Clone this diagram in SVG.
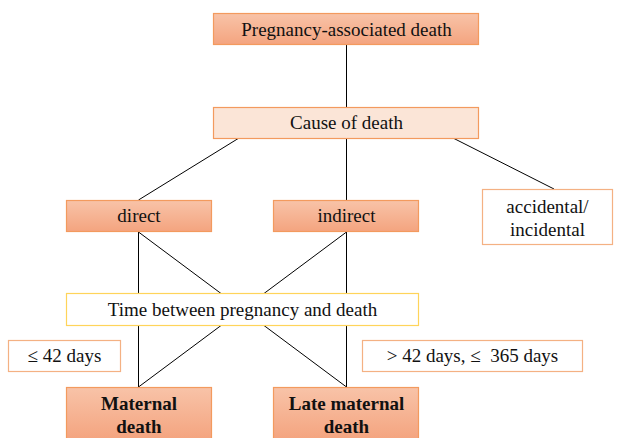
<svg xmlns="http://www.w3.org/2000/svg" width="621" height="438" viewBox="0 0 621 438">
<defs>
<linearGradient id="og" x1="0" y1="0" x2="0" y2="1">
<stop offset="0" stop-color="#F8C3A8"/>
<stop offset="1" stop-color="#F4A47F"/>
</linearGradient>
<style>
.t{font-family:"Liberation Serif","Times New Roman",serif;font-size:19px;fill:#111;text-anchor:middle}
.b{font-weight:bold}
.or{fill:url(#og);stroke:#F39A5E;stroke-width:1.2}
.lt{fill:#FBE5D7;stroke:#F39A5E;stroke-width:1.2}
.wo{fill:#fff;stroke:#F4B183;stroke-width:1.2}
.wy{fill:#fff;stroke:#FFD45A;stroke-width:1.2}
.c line{stroke:#000;stroke-width:1}
</style>
</defs>
<rect width="621" height="438" fill="#fff"/>
<g class="c" id="connectors">
<line x1="346.5" y1="44" x2="346.5" y2="107"/>
<line x1="239" y1="138" x2="138.5" y2="200"/>
<line x1="346.5" y1="138" x2="346.5" y2="200"/>
<line x1="453" y1="138" x2="554" y2="189"/>
<line x1="138.5" y1="232" x2="138.5" y2="387"/>
<line x1="346.5" y1="232" x2="346.5" y2="387"/>
<line x1="138.5" y1="232" x2="346.5" y2="387"/>
<line x1="346.5" y1="232" x2="138.5" y2="387"/>
</g>
<g id="n-pad"><rect class="or" x="213.5" y="13.5" width="265" height="31"/><text class="t" x="346.5" y="35.5">Pregnancy-associated death</text></g>
<g id="n-cause"><rect class="lt" x="213.5" y="107.5" width="265" height="31"/><text class="t" x="346.5" y="129">Cause of death</text></g>
<g id="n-direct"><rect class="or" x="66.5" y="200.5" width="145" height="31"/><text class="t" x="139" y="222">direct</text></g>
<g id="n-indirect"><rect class="or" x="273.5" y="200.5" width="145" height="31"/><text class="t" x="346.5" y="222">indirect</text></g>
<g id="n-accidental"><rect class="wo" x="482.5" y="189.5" width="130" height="55"/><text class="t" x="547.5" y="213">accidental/</text><text class="t" x="547.5" y="236">incidental</text></g>
<g id="n-time"><rect class="wy" x="66.5" y="293.5" width="352" height="32"/><text class="t" x="242.5" y="316">Time between pregnancy and death</text></g>
<g id="n-le42"><rect class="wo" x="8.5" y="340.5" width="112" height="31"/><text class="t" x="64.5" y="362">≤ 42 days</text></g>
<g id="n-gt42"><rect class="wo" x="362.5" y="340.5" width="220" height="31"/><text class="t" x="472.5" y="362" xml:space="preserve">&gt; 42 days, ≤  365 days</text></g>
<g id="n-maternal"><rect class="or" x="66.5" y="387.5" width="145" height="52"/><text class="t b" x="139" y="410">Maternal</text><text class="t b" x="139" y="433">death</text></g>
<g id="n-late"><rect class="or" x="273.5" y="387.5" width="145" height="52"/><text class="t b" x="346.5" y="410">Late maternal</text><text class="t b" x="346.5" y="433">death</text></g>
</svg>
